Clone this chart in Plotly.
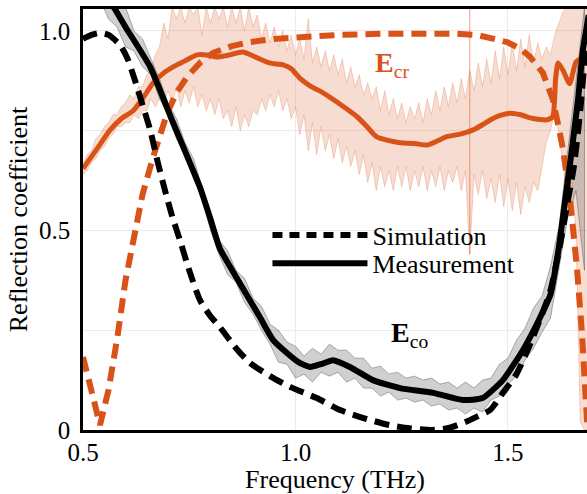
import plotly.graph_objects as go

# ---------------- data ----------------
# Simulation, co-polarised (black dashed)
sim_co_x = [0.50, 0.52, 0.54, 0.56, 0.587, 0.605, 0.622, 0.64, 0.658, 0.675, 0.693, 0.71, 0.728,
            0.75, 0.775, 0.80, 0.822, 0.86, 0.893, 0.94, 0.987, 1.05, 1.105, 1.16, 1.22, 1.27,
            1.32, 1.36, 1.40, 1.43, 1.458, 1.488, 1.52, 1.55, 1.58, 1.60, 1.62, 1.64, 1.655,
            1.67, 1.686]
sim_co_y = [0.98, 0.99, 0.995, 0.99, 0.965, 0.93, 0.877, 0.815, 0.752, 0.675, 0.60, 0.535, 0.476,
            0.40, 0.326, 0.285, 0.258, 0.205, 0.168, 0.135, 0.108, 0.08, 0.05, 0.03, 0.0125, 0.004,
            0.0, 0.005, 0.02, 0.035, 0.05, 0.093, 0.14, 0.21, 0.29, 0.35, 0.45, 0.57, 0.66,
            0.80, 1.0]

# Simulation, cross-polarised (orange dashed)
sim_cr_x = [0.50, 0.52, 0.54, 0.56, 0.58, 0.60, 0.618, 0.64, 0.665, 0.698, 0.72, 0.745, 0.775,
            0.806, 0.85, 0.893, 0.95, 1.01, 1.10, 1.20, 1.30, 1.38, 1.427, 1.46, 1.498, 1.53,
            1.552, 1.582, 1.606, 1.622, 1.63, 1.646, 1.662, 1.674, 1.681, 1.69]
sim_cr_y = [0.183, 0.10, 0.0125, 0.10, 0.226, 0.375, 0.476, 0.59, 0.684, 0.794, 0.845, 0.885, 0.92,
            0.945, 0.962, 0.972, 0.98, 0.985, 0.99, 0.993, 0.995, 0.993, 0.99, 0.983, 0.972, 0.955,
            0.935, 0.895, 0.827, 0.744, 0.70, 0.576, 0.41, 0.243, 0.118, -0.05]

# Measurement, co-polarised (black solid)
meas_co_x = [0.56, 0.575, 0.60, 0.658, 0.712, 0.775, 0.80, 0.822, 0.869, 0.916, 0.947, 0.98, 1.01,
             1.034, 1.06, 1.088, 1.128, 1.182, 1.246, 1.324, 1.394, 1.44, 1.488, 1.535, 1.57,
             1.60, 1.62, 1.635, 1.65, 1.665, 1.676, 1.69]
meas_co_y = [1.08, 1.055, 1.01, 0.91, 0.77, 0.609, 0.528, 0.455, 0.368, 0.283, 0.226, 0.193, 0.168,
             0.158, 0.165, 0.175, 0.158, 0.125, 0.105, 0.093, 0.075, 0.08, 0.125, 0.20, 0.27,
             0.34, 0.46, 0.58, 0.70, 0.83, 0.95, 1.04]

# Measurement, cross-polarised (orange solid)
meas_cr_x = [0.50, 0.53, 0.564, 0.59, 0.618, 0.64, 0.665, 0.69, 0.712, 0.74, 0.768, 0.79, 0.815,
             0.845, 0.876, 0.905, 0.933, 0.955, 0.971, 0.99, 1.01, 1.035, 1.065, 1.10, 1.145,
             1.17, 1.19, 1.22, 1.246, 1.28, 1.31, 1.335, 1.356, 1.39, 1.418, 1.44, 1.458, 1.48,
             1.505, 1.53, 1.552, 1.575, 1.59, 1.605, 1.612, 1.618, 1.63, 1.645, 1.66, 1.672, 1.69]
meas_cr_y = [0.655, 0.70, 0.752, 0.78, 0.80, 0.83, 0.87, 0.895, 0.91, 0.925, 0.94, 0.94, 0.935,
             0.94, 0.947, 0.935, 0.922, 0.917, 0.915, 0.905, 0.882, 0.862, 0.845, 0.82, 0.785,
             0.758, 0.735, 0.725, 0.72, 0.718, 0.714, 0.725, 0.735, 0.742, 0.752, 0.765, 0.777,
             0.788, 0.794, 0.79, 0.782, 0.778, 0.777, 0.785, 0.88, 0.92, 0.90, 0.868, 0.922,
             0.93, 0.925]

# Measurement spread (raw data envelope), co-polarised
band_co_x = [0.54, 0.56, 0.58, 0.60, 0.62, 0.64, 0.66, 0.68, 0.70, 0.72, 0.74, 0.76, 0.78, 0.80,
             0.82, 0.84, 0.86, 0.88, 0.90, 0.92, 0.94, 0.96, 0.98, 1.00, 1.02, 1.04, 1.06, 1.08,
             1.10, 1.12, 1.14, 1.16, 1.18, 1.20, 1.22, 1.24, 1.26, 1.28, 1.30, 1.32, 1.34, 1.36,
             1.38, 1.40, 1.42, 1.44, 1.46, 1.48, 1.50, 1.52, 1.54, 1.56, 1.58, 1.60, 1.62, 1.64,
             1.66, 1.68]
band_co_hi = [1.15, 1.13, 1.08, 1.06, 1.00, 0.98, 0.93, 0.88, 0.82, 0.78, 0.72, 0.68, 0.61, 0.55,
              0.475, 0.45, 0.40, 0.38, 0.33, 0.31, 0.265, 0.25, 0.22, 0.21, 0.185, 0.205, 0.19,
              0.215, 0.20, 0.2, 0.18, 0.18, 0.155, 0.16, 0.14, 0.145, 0.13, 0.135, 0.125, 0.13,
              0.115, 0.12, 0.105, 0.12, 0.105, 0.125, 0.13, 0.165, 0.18, 0.225, 0.255, 0.305,
              0.335, 0.41, 0.51, 0.69, 0.88, 1.06]
band_co_lo = [1.08, 1.03, 1.01, 0.96, 0.95, 0.91, 0.89, 0.83, 0.79, 0.73, 0.69, 0.63, 0.58, 0.50,
              0.44, 0.39, 0.37, 0.32, 0.29, 0.25, 0.215, 0.17, 0.165, 0.13, 0.14, 0.12, 0.145,
              0.135, 0.145, 0.12, 0.13, 0.105, 0.105, 0.085, 0.095, 0.075, 0.08, 0.07, 0.075,
              0.06, 0.065, 0.05, 0.055, 0.04, 0.055, 0.045, 0.075, 0.085, 0.115, 0.135, 0.175,
              0.205, 0.245, 0.28, 0.41, 0.53, 0.60, 0.40]

# Measurement spread (raw data envelope), cross-polarised, read every 0.01 THz
band_cr_x = [0.50, 0.51, 0.52, 0.53, 0.54, 0.55, 0.56, 0.57, 0.58, 0.59,
             0.60, 0.61, 0.62, 0.63, 0.64, 0.65, 0.66, 0.67, 0.68, 0.69,
             0.70, 0.71, 0.72, 0.73, 0.74, 0.75, 0.76, 0.77, 0.78, 0.79,
             0.80, 0.81, 0.82, 0.83, 0.84, 0.85, 0.86, 0.87, 0.88, 0.89,
             0.90, 0.91, 0.92, 0.93, 0.94, 0.95, 0.96, 0.97, 0.98, 0.99,
             1.00, 1.01, 1.02, 1.03, 1.04, 1.05, 1.06, 1.07, 1.08, 1.09,
             1.10, 1.11, 1.12, 1.13, 1.14, 1.15, 1.16, 1.17, 1.18, 1.19,
             1.20, 1.21, 1.22, 1.23, 1.24, 1.25, 1.26, 1.27, 1.28, 1.29,
             1.30, 1.31, 1.32, 1.33, 1.34, 1.35, 1.36, 1.37, 1.38, 1.39,
             1.40, 1.41, 1.42, 1.43, 1.44, 1.45, 1.46, 1.47, 1.48, 1.49,
             1.50, 1.51, 1.52, 1.53, 1.54, 1.55, 1.56, 1.57, 1.58, 1.59,
             1.60, 1.61, 1.62, 1.63, 1.64, 1.65, 1.66, 1.67, 1.68, 1.69]
band_cr_hi = [0.67, 0.69, 0.70, 0.73, 0.74, 0.76, 0.77, 0.79, 0.79, 0.81,
              0.82, 0.84, 0.83, 0.86, 0.86, 0.89, 0.90, 0.94, 0.96, 1.02,
              0.98, 1.06, 1.03, 1.06, 1.02, 1.06, 1.04, 1.06, 0.99, 1.06,
              1.02, 1.06, 1.03, 1.06, 1.01, 1.06, 1.02, 1.06, 1.00, 1.06,
              1.01, 1.04, 0.98, 1.02, 0.97, 1.01, 0.96, 1.00, 0.95, 0.99,
              0.94, 0.98, 0.93, 1.03, 0.92, 0.96, 0.91, 0.95, 0.90, 0.94,
              0.89, 0.93, 0.87, 0.91, 0.86, 0.89, 0.84, 0.87, 0.83, 0.86,
              0.80, 0.85, 0.79, 0.83, 0.78, 0.82, 0.77, 0.81, 0.78, 0.82,
              0.77, 0.83, 0.79, 0.85, 0.80, 0.86, 0.81, 0.87, 0.82, 0.88,
              0.83, 0.90, 0.85, 0.92, 0.86, 0.93, 0.87, 0.95, 0.88, 0.96,
              0.89, 0.97, 0.90, 0.98, 0.91, 0.99, 0.92, 0.97, 0.93, 0.96,
              0.94, 0.99, 1.02, 1.05, 1.06, 1.06, 1.06, 1.06, 1.06, 1.06]
band_cr_lo = [0.64, 0.65, 0.67, 0.68, 0.70, 0.71, 0.73, 0.74, 0.76, 0.76,
              0.77, 0.77, 0.79, 0.78, 0.80, 0.80, 0.83, 0.81, 0.83, 0.82,
              0.85, 0.82, 0.86, 0.81, 0.85, 0.82, 0.86, 0.81, 0.84, 0.80,
              0.83, 0.79, 0.83, 0.78, 0.80, 0.76, 0.81, 0.75, 0.79, 0.76,
              0.80, 0.79, 0.83, 0.80, 0.84, 0.81, 0.85, 0.80, 0.83, 0.78,
              0.81, 0.74, 0.79, 0.70, 0.77, 0.69, 0.76, 0.70, 0.74, 0.68,
              0.73, 0.67, 0.71, 0.66, 0.70, 0.64, 0.69, 0.62, 0.67, 0.60,
              0.66, 0.61, 0.65, 0.60, 0.66, 0.61, 0.66, 0.60, 0.65, 0.61,
              0.66, 0.60, 0.65, 0.61, 0.66, 0.60, 0.65, 0.62, 0.66, 0.60,
              0.65, 0.44, 0.64, 0.59, 0.65, 0.58, 0.63, 0.57, 0.64, 0.56,
              0.63, 0.55, 0.62, 0.54, 0.61, 0.57, 0.62, 0.60, 0.66, 0.72,
              0.75, 0.80, 0.74, 0.66, 0.60, 0.62, 0.50, 0.02, 0.0, 0.0]

# isolated spike of the raw cross-polarised data
spike_x = [1.41, 1.41]
spike_y = [0.44, 1.06]

legend_names = ["Simulation", "Measurement"]

x_ticks = [0.5, 1.0, 1.5]
x_tick_text = ["0.5", "1.0", "1.5"]
y_ticks = [0, 0.5, 1.0]
y_tick_text = ["0", "0.5", "1.0"]

# ---------------- style ----------------
ORANGE = "#D95319"
FONT = "'Liberation Serif', 'Times New Roman', Tinos, Times, serif"

fig = go.Figure()

# bands (closed polygons)
fig.add_trace(go.Scatter(
    x=band_cr_x + band_cr_x[::-1], y=band_cr_hi + band_cr_lo[::-1],
    fill="toself", fillcolor="rgba(217,83,25,0.2)", mode="lines",
    line=dict(color="rgba(217,83,25,0.35)", width=0.7), hoverinfo="skip", showlegend=False))
fig.add_trace(go.Scatter(
    x=spike_x, y=spike_y, mode="lines",
    line=dict(color="rgba(217,83,25,0.45)", width=1.2), hoverinfo="skip", showlegend=False))
fig.add_trace(go.Scatter(
    x=band_co_x + band_co_x[::-1], y=band_co_hi + band_co_lo[::-1],
    fill="toself", fillcolor="rgba(120,120,120,0.35)", mode="lines",
    line=dict(color="rgba(80,80,80,0.55)", width=0.8), hoverinfo="skip", showlegend=False))

# simulation / measurement curves
fig.add_trace(go.Scatter(x=sim_cr_x, y=sim_cr_y, mode="lines", showlegend=False,
                         line=dict(color=ORANGE, width=6, dash="15px,8px")))
fig.add_trace(go.Scatter(x=meas_cr_x, y=meas_cr_y, mode="lines", showlegend=False,
                         line=dict(color=ORANGE, width=5, shape="spline", smoothing=0.6)))
fig.add_trace(go.Scatter(x=sim_co_x, y=sim_co_y, mode="lines", showlegend=False,
                         line=dict(color="black", width=6, dash="15px,8px", shape="spline",
                                   smoothing=0.6)))
fig.add_trace(go.Scatter(x=meas_co_x, y=meas_co_y, mode="lines", showlegend=False,
                         line=dict(color="black", width=6, shape="spline", smoothing=0.5)))

# legend-only entries (two legends so the rows can sit closer together)
fig.add_trace(go.Scatter(x=[None], y=[None], mode="lines", name=legend_names[0],
                         line=dict(color="black", width=6, dash="10px,7px"), legend="legend"))
fig.add_trace(go.Scatter(x=[None], y=[None], mode="lines", name=legend_names[1],
                         line=dict(color="black", width=6), legend="legend2"))

fig.add_annotation(x=1.227, y=0.915, text="<b>E</b><sub>cr</sub>", showarrow=False,
                   font=dict(family=FONT, size=28, color=ORANGE))
fig.add_annotation(x=1.269, y=0.24, text="<b>E</b><sub>co</sub>", showarrow=False,
                   font=dict(family=FONT, size=28, color="black"))

legend_common = dict(xanchor="left", yanchor="middle", bgcolor="rgba(0,0,0,0)",
                     font=dict(family=FONT, size=26), itemwidth=95, borderwidth=0)

fig.update_layout(
    width=587, height=494,
    margin=dict(l=83, r=0, t=9, b=64, autoexpand=False),
    paper_bgcolor="white", plot_bgcolor="white",
    font=dict(family=FONT, size=25, color="black"),
    showlegend=True,
    legend=dict(x=0.366, y=0.463, **legend_common),
    legend2=dict(x=0.366, y=0.396, **legend_common),
    xaxis=dict(range=[0.5, 1.6859], tickvals=x_ticks, ticktext=x_tick_text,
               showgrid=True, gridcolor="#ebebeb", gridwidth=1, automargin=False,
               showline=True, linecolor="black", linewidth=2.5, mirror=True,
               ticks="", ticklabelstandoff=-2, zeroline=False,
               title=dict(text="Frequency (THz)", font=dict(family=FONT, size=26), standoff=10)),
    yaxis=dict(range=[0, 1.055], tickvals=y_ticks, ticktext=y_tick_text,
               showgrid=True, gridcolor="#ebebeb", gridwidth=1, automargin=False,
               minor=dict(tickvals=[0.25, 0.75], showgrid=True, gridcolor="#ebebeb", gridwidth=1),
               showline=True, linecolor="black", linewidth=2.5, mirror=False,
               ticks="", ticklabelstandoff=5, zeroline=False,
               title=dict(text="Reflection coefficient", font=dict(family=FONT, size=26), standoff=4)),
)

fig.write_html("out.html")
